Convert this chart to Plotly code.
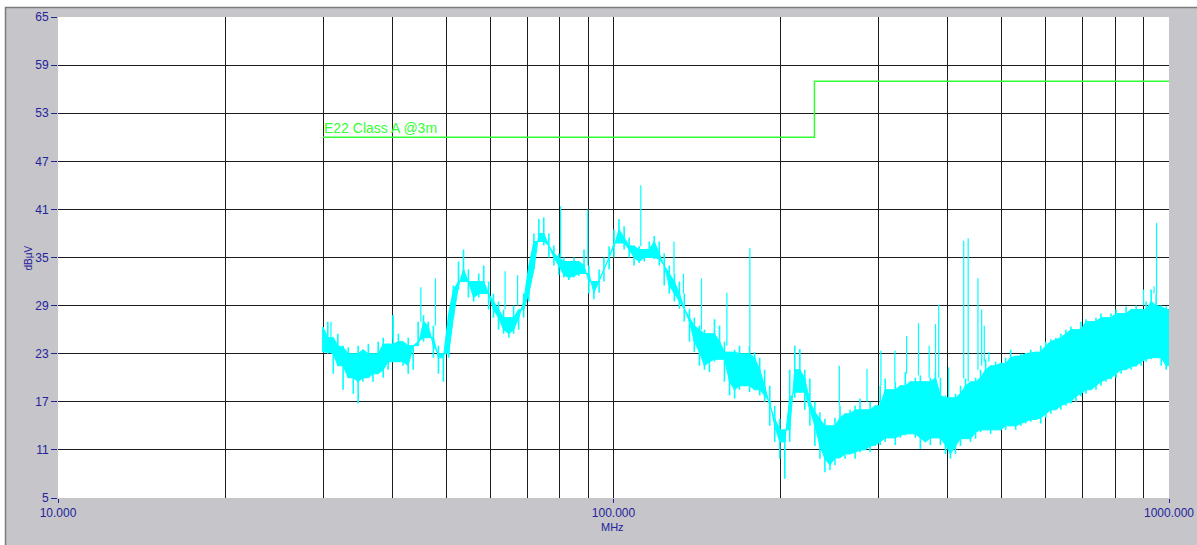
import plotly.graph_objects as go

# Radiated emission scan, 30 MHz - 1 GHz (peak detector)
scan_mhz = [
    30.0, 30.6, 31.3, 31.9, 32.6, 33.3, 34.0, 34.7, 35.4, 36.2,
    36.9, 37.7, 38.5, 39.3, 40.1, 41.0, 41.8, 42.7, 43.6, 44.5,
    45.5, 46.4, 47.4, 48.4, 49.4, 50.5, 51.5, 52.6, 53.7, 54.8,
    56.0, 57.2, 58.4, 59.6, 60.8, 62.1, 63.4, 64.8, 66.1, 67.5,
    68.9, 70.4, 71.9, 73.4, 74.9, 76.5, 78.1, 79.7, 81.4, 83.1,
    84.9, 86.6, 88.5, 90.3, 92.2, 94.2, 96.1, 98.2, 100.2, 102.3,
    104.5, 106.7, 108.9, 111.2, 113.6, 116.0, 118.4, 120.9, 123.4, 126.0,
    128.7, 131.4, 134.1, 137.0, 139.8, 142.8, 145.8, 148.8, 152.0, 155.2,
    158.4, 161.8, 165.2, 168.6, 172.2, 175.8, 179.5, 183.3, 187.1, 191.1,
    195.1, 199.2, 203.4, 207.6, 212.0, 216.5, 221.0, 225.7, 230.4, 235.3,
    240.2, 245.3, 250.4, 255.7, 261.1, 266.6, 272.2, 277.9, 283.8, 289.7,
    295.8, 302.1, 308.4, 314.9, 321.5, 328.3, 335.2, 342.2, 349.4, 356.8,
    364.3, 371.9, 379.7, 387.7, 395.9, 404.2, 412.7, 421.4, 430.2, 439.3,
    448.5, 457.9, 467.6, 477.4, 487.4, 497.7, 508.1, 518.8, 529.7, 540.9,
    552.2, 563.8, 575.7, 587.8, 600.1, 612.7, 625.6, 638.7, 652.2, 665.9,
    679.9, 694.2, 708.8, 723.6, 738.8, 754.4, 770.2, 786.4, 802.9, 819.8,
    837.0, 854.6, 872.6, 890.9, 909.6, 928.7, 948.2, 968.2, 988.5, 1000.0,
]

# Upper edge of the noise band (dBuV)
scan_max = [
    26.3, 27.0, 25.0, 25.5, 24.0, 23.8, 23.0, 24.0, 23.5, 24.2,
    23.0, 24.5, 25.0, 24.2, 27.8, 25.5, 24.5, 25.0, 24.0, 27.0,
    27.8, 27.0, 26.5, 24.0, 23.0, 27.5, 31.5, 34.5, 36.0, 33.5,
    32.0, 33.0, 34.0, 32.0, 30.5, 29.5, 28.5, 27.5, 29.0, 28.5,
    30.5, 33.5, 38.0, 39.8, 40.0, 38.0, 36.5, 35.5, 35.0, 34.5,
    35.0, 34.5, 36.0, 34.0, 32.0, 33.5, 35.0, 36.4, 38.5, 39.8,
    38.9, 37.5, 36.5, 36.4, 36.0, 37.0, 37.7, 37.0, 35.5, 34.0,
    33.0, 32.0, 30.5, 28.6, 27.5, 26.5, 26.0, 25.5, 27.3, 26.5,
    24.5, 23.2, 23.5, 24.0, 23.0, 24.0, 23.2, 22.5, 21.0, 19.0,
    16.5, 14.9, 13.5, 21.0, 24.0, 23.6, 21.0, 19.9, 17.0, 15.7,
    14.9, 14.0, 15.0, 16.5, 15.5, 16.0, 16.5, 17.4, 16.0, 17.0,
    16.5, 19.0, 19.9, 18.5, 19.5, 19.0, 20.7, 19.5, 20.0, 20.3,
    19.5, 20.0, 20.7, 20.0, 17.8, 17.5, 18.0, 19.0, 19.9, 19.5,
    20.0, 21.0, 22.3, 21.5, 22.0, 21.8, 22.5, 23.5, 22.7, 23.0,
    23.1, 23.5, 23.2, 24.0, 24.5, 24.8, 25.0, 25.5, 26.0, 26.4,
    26.0, 27.0, 27.3, 27.0, 27.5, 28.0, 27.5, 28.0, 28.5, 28.0,
    28.9, 28.5, 29.0, 28.5, 29.5, 31.0, 30.5, 29.0, 28.9, 28.5,
]

# Lower edge of the noise band (dBuV)
scan_min = [
    23.2, 23.0, 20.5, 21.5, 18.5, 20.0, 18.0, 16.8, 19.5, 20.0,
    19.5, 20.5, 20.0, 21.0, 22.0, 22.0, 21.5, 20.5, 21.0, 24.0,
    24.5, 25.0, 22.5, 20.5, 19.5, 22.5, 28.0, 31.0, 32.0, 30.0,
    29.5, 30.0, 30.5, 28.5, 27.5, 26.0, 25.5, 25.0, 25.5, 26.0,
    27.5, 29.5, 34.0, 37.0, 36.5, 35.0, 34.0, 32.8, 32.5, 32.2,
    32.5, 32.7, 33.0, 30.5, 29.8, 30.6, 32.0, 33.5, 35.0, 36.8,
    36.0, 35.0, 34.0, 34.3, 34.5, 35.0, 34.8, 34.0, 31.5, 30.5,
    29.5, 28.6, 27.0, 24.5, 23.2, 21.5, 21.0, 20.7, 22.0, 22.3,
    19.5, 17.8, 17.4, 18.5, 19.0, 18.2, 18.5, 17.8, 17.0, 14.0,
    12.0, 9.9, 7.4, 12.0, 17.5, 18.2, 16.0, 14.0, 11.5, 9.9,
    8.2, 8.5, 9.1, 10.0, 9.9, 10.5, 9.9, 10.7, 11.0, 10.7,
    11.5, 11.6, 12.0, 12.5, 11.6, 12.5, 12.8, 13.0, 12.5, 11.1,
    12.0, 11.6, 12.5, 11.6, 10.5, 9.9, 10.5, 11.5, 12.4, 12.0,
    12.4, 13.2, 13.5, 13.0, 13.5, 13.5, 13.5, 14.0, 13.5, 14.0,
    14.3, 14.5, 14.8, 14.3, 15.0, 15.5, 16.0, 16.0, 16.5, 16.8,
    17.0, 17.7, 18.0, 18.5, 18.5, 19.0, 19.5, 19.8, 20.0, 20.5,
    21.0, 21.0, 21.4, 21.5, 22.0, 22.3, 22.5, 21.5, 21.0, 21.5,
]

# Narrowband emissions standing above the noise floor
spike_mhz = [31.0, 40.1, 45.0, 47.8, 63.8, 67.2, 80.3, 89.9, 112.0, 128.5,
             133.6, 144.0, 160.0, 176.0, 255.0, 286.0, 303.0, 321.0, 337.0, 354.0,
             370.0, 380.0, 385.0, 401.0, 427.0, 435.0, 453.0, 460.0, 465.0, 474.0,
             900.0, 940.0, 950.0]
spike_base = [25.0, 25.0, 27.0, 26.5, 28.5, 29.0, 35.0, 34.0, 36.4, 33.0,
              30.5, 26.0, 24.0, 24.0, 16.5, 17.0, 19.0, 19.5, 20.5, 20.3,
              20.0, 20.5, 20.0, 17.5, 19.9, 19.5, 21.0, 21.5, 22.0, 22.0,
              29.0, 30.5, 30.5]
spike_top = [27.0, 27.8, 31.3, 32.4, 33.3, 32.8, 41.4, 41.0, 44.0, 37.0,
             33.0, 32.4, 30.6, 36.2, 21.5, 21.1, 23.4, 23.4, 25.2, 26.8,
             24.0, 26.7, 29.1, 21.3, 37.1, 37.4, 32.4, 28.5, 26.5, 23.2,
             31.0, 31.4, 39.3]

# EN 55022 Class A limit at 3 m
limit_mhz = [30, 230, 230, 1000]
limit_dbuv = [50, 50, 57, 57]
limit_name = "E22 Class A @3m"

y_ticks = [5, 11, 17, 23, 29, 35, 41, 47, 53, 59, 65]
y_grid = [11, 17, 23, 29, 35, 41, 47, 53, 59]
x_ticks = [10, 100, 1000]
x_tick_text = ["10.000", "100.000", "1000.000"]
x_grid = [20, 30, 40, 50, 60, 70, 80, 90, 100, 200, 300, 400, 500, 600, 700, 800, 900]

TRACE = "#00ffff"
LIMIT = "#33ff33"
GRID = "#1c1c1c"
NAVY = "#23239b"
PANEL = "#c6c5c9"
FONT = "Liberation Sans, Arial, sans-serif"

W, H = 1197, 545
ML, MR, MT, MB = 58, 28, 17, 47
PW, PH = W - ML - MR, H - MT - MB


def px(x):
    return (x - ML) / PW


def py(y):
    return (H - MB - y) / PH


# solid core of the band: the part shared with both neighbouring sweep points;
# whatever sticks out beyond it is drawn as single hairlines
n = len(scan_mhz)
core_top, core_bot = [], []
for i in range(n):
    lo, hi = max(0, i - 1), min(n, i + 2)
    core_top.append(min(scan_max[lo:hi]))
    core_bot.append(max(scan_min[lo:hi]))

fig = go.Figure()

fig.add_trace(go.Scatter(x=scan_mhz, y=core_bot, mode="lines",
                         line=dict(color=TRACE, width=1), hoverinfo="skip"))
fig.add_trace(go.Scatter(x=scan_mhz, y=core_top, mode="lines", fill="tonexty",
                         fillcolor=TRACE, line=dict(color=TRACE, width=1), hoverinfo="skip"))

hx, hy = [], []
for f, ct, cb, t, b in zip(scan_mhz, core_top, core_bot, scan_max, scan_min):
    hx += [f, f, None]
    hy += [min(cb, ct), max(t, ct), None]
    hx += [f, f, None]
    hy += [max(ct, cb), min(b, cb), None]
fig.add_trace(go.Scatter(x=hx, y=hy, mode="lines", line=dict(color=TRACE, width=1.6),
                         hoverinfo="skip"))

sx, sy = [], []
for f, b, t in zip(spike_mhz, spike_base, spike_top):
    sx += [f, f, None]
    sy += [b, t, None]
fig.add_trace(go.Scatter(x=sx, y=sy, mode="lines", line=dict(color=TRACE, width=1.2),
                         hoverinfo="skip"))

fig.add_trace(go.Scatter(x=limit_mhz, y=limit_dbuv, mode="lines",
                         line=dict(color=LIMIT, width=1.5), hoverinfo="skip"))

fig.add_annotation(x=1.4771, y=50, xref="x", yref="y", text=limit_name, showarrow=False,
                   xanchor="left", yanchor="bottom", yshift=-1, xshift=-1,
                   font=dict(family=FONT, size=14, color=LIMIT))

# axis titles
fig.add_annotation(x=px(612), y=py(535), xref="paper", yref="paper", text="MHz",
                   showarrow=False, font=dict(family=FONT, size=11, color=NAVY))
fig.add_annotation(x=px(20), y=py(258), xref="paper", yref="paper", text="dBµV",
                   showarrow=False, textangle=-90, font=dict(family=FONT, size=10, color=NAVY))

# panel frame around the chart
shapes = [
    dict(type="rect", xref="paper", yref="paper", x0=px(0), x1=px(5), y0=py(H), y1=py(0),
         fillcolor="white", line=dict(width=0), layer="below"),
    dict(type="rect", xref="paper", yref="paper", x0=px(0), x1=px(W), y0=py(7), y1=py(0),
         fillcolor="white", line=dict(width=0), layer="below"),
    dict(type="line", xref="paper", yref="paper", x0=px(5), x1=px(W), y0=py(7.5), y1=py(7.5),
         line=dict(color="#7c7c7c", width=1.5), layer="below"),
    dict(type="line", xref="paper", yref="paper", x0=px(5.5), x1=px(5.5), y0=py(7), y1=py(H),
         line=dict(color="#7c7c7c", width=1.5), layer="below"),
]

fig.update_layout(
    width=W, height=H, autosize=False,
    margin=dict(l=ML, r=MR, t=MT, b=MB, pad=0, autoexpand=False),
    paper_bgcolor=PANEL, plot_bgcolor="white",
    showlegend=False,
    shapes=shapes,
    font=dict(family=FONT, size=12, color=NAVY),
)

fig.update_xaxes(
    type="log", range=[1, 3], automargin=False,
    tickmode="array", tickvals=x_ticks, ticktext=x_tick_text,
    ticks="outside", ticklen=4, tickwidth=1, tickcolor=NAVY,
    tickfont=dict(family=FONT, size=12, color=NAVY),
    showgrid=False, zeroline=False, showline=False,
    minor=dict(tickmode="array", tickvals=x_grid, showgrid=True,
               gridcolor=GRID, gridwidth=1.4, ticks=""),
)

fig.update_yaxes(
    range=[5, 65], automargin=False,
    tickmode="array", tickvals=y_ticks, ticktext=[str(v) for v in y_ticks],
    ticks="outside", ticklen=6, tickwidth=1, tickcolor=NAVY,
    tickfont=dict(family=FONT, size=12, color=NAVY),
    showgrid=False, zeroline=False, showline=False,
    minor=dict(tickmode="array", tickvals=y_grid, showgrid=True,
               gridcolor=GRID, gridwidth=1.4, ticks=""),
)

fig.write_html("out.html")
